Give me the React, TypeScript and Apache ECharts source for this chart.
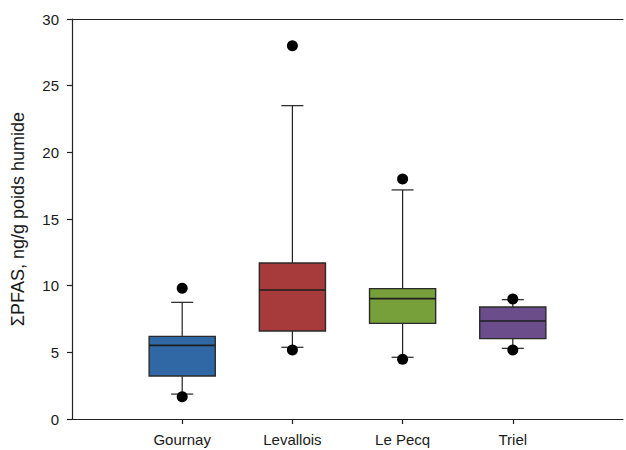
import React, { useEffect, useRef } from "react";
import * as echarts from "echarts";

// Sites along the horizontal axis (empty slots pad both ends of the axis)
const sites = ["", "Gournay", "Levallois", "Le Pecq", "Triel", ""];
const siteIndex = [1, 2, 3, 4];
// Box statistics per site: lower whisker, Q1, median, Q3, upper whisker
const lowerWhisker = [1.87, 5.38, 4.63, 5.3];
const q1 = [3.22, 6.6, 7.17, 6.03];
const median = [5.52, 9.68, 9.03, 7.35];
const q3 = [6.2, 11.7, 9.78, 8.4];
const upperWhisker = [8.75, 23.5, 17.18, 8.95];
// Extreme points beyond the whiskers
const outlierSite = [1, 1, 2, 2, 3, 3, 4, 4];
const outlierValue = [9.8, 1.67, 28.0, 5.17, 18.0, 4.48, 9.0, 5.17];
const boxColors = ["#2F68A4", "#A73B3B", "#77A03B", "#6A4D8A"];
const yTicks = { min: 0, max: 30, interval: 5 };

const FONT = "'Liberation Sans', Arial, sans-serif";

export default function App() {
  const ref = useRef<HTMLDivElement>(null);

  useEffect(() => {
    if (!ref.current) return;
    const chart = echarts.init(ref.current, null, { renderer: "svg" });

    const boxData = siteIndex.map((s, i) => [
      s,
      lowerWhisker[i],
      q1[i],
      median[i],
      q3[i],
      upperWhisker[i],
    ]);
    const outliers = outlierSite.map((s, i) => [s, outlierValue[i]]);

    const lineStyle = { stroke: "#222", lineWidth: 1.2 };

    chart.setOption({
      animation: false,
      textStyle: { fontFamily: FONT },
      grid: { left: 72, right: 0, top: 19, bottom: 31 },
      xAxis: [
        {
          type: "category",
          data: sites,
          boundaryGap: false,
          axisLine: { lineStyle: { color: "#222", width: 1.2 } },
          axisTick: {
            length: 5,
            lineStyle: { color: "#222", width: 1.2 },
            interval: (_i: number, v: string) => v !== "",
          },
          axisLabel: {
            interval: 0,
            margin: 13,
            fontSize: 15,
            color: "#1a1a1a",
            fontFamily: FONT,
          },
          splitLine: { show: false },
        },
        {
          type: "category",
          data: sites,
          boundaryGap: false,
          position: "top",
          axisLine: { lineStyle: { color: "#222", width: 1.2 } },
          axisTick: { show: false },
          axisLabel: { show: false },
          splitLine: { show: false },
        },
      ],
      yAxis: {
        type: "value",
        min: yTicks.min,
        max: yTicks.max,
        interval: yTicks.interval,
        name: "ΣPFAS, ng/g poids humide",
        nameLocation: "middle",
        nameGap: 45,
        nameTextStyle: { fontSize: 18, color: "#1a1a1a", fontFamily: FONT },
        axisLine: { show: true, lineStyle: { color: "#222", width: 1.2 } },
        axisTick: { show: true, length: 5, lineStyle: { color: "#222", width: 1.2 } },
        axisLabel: { fontSize: 15, color: "#1a1a1a", margin: 13, fontFamily: FONT },
        splitLine: { show: false },
      },
      series: [
        {
          type: "custom",
          data: boxData,
          encode: { x: 0, y: [1, 2, 3, 4, 5] },
          renderItem: (params: any, api: any) => {
            const x = api.value(0);
            const band = api.size([1, 0])[0];
            const boxW = band * 0.6;
            const capW = band * 0.2;
            const pLo = api.coord([x, api.value(1)]);
            const pQ1 = api.coord([x, api.value(2)]);
            const pMed = api.coord([x, api.value(3)]);
            const pQ3 = api.coord([x, api.value(4)]);
            const pHi = api.coord([x, api.value(5)]);
            const cx = pMed[0];
            return {
              type: "group",
              children: [
                {
                  type: "line",
                  shape: { x1: cx, y1: pQ3[1], x2: cx, y2: pHi[1] },
                  style: lineStyle,
                },
                {
                  type: "line",
                  shape: { x1: cx, y1: pQ1[1], x2: cx, y2: pLo[1] },
                  style: lineStyle,
                },
                {
                  type: "line",
                  shape: { x1: cx - capW / 2, y1: pHi[1], x2: cx + capW / 2, y2: pHi[1] },
                  style: lineStyle,
                },
                {
                  type: "line",
                  shape: { x1: cx - capW / 2, y1: pLo[1], x2: cx + capW / 2, y2: pLo[1] },
                  style: lineStyle,
                },
                {
                  type: "rect",
                  shape: {
                    x: cx - boxW / 2,
                    y: pQ3[1],
                    width: boxW,
                    height: pQ1[1] - pQ3[1],
                  },
                  style: {
                    fill: boxColors[params.dataIndex],
                    stroke: "#2a2a2a",
                    lineWidth: 1.4,
                  },
                },
                {
                  type: "line",
                  shape: { x1: cx - boxW / 2, y1: pMed[1], x2: cx + boxW / 2, y2: pMed[1] },
                  style: { stroke: "#1e1e1e", lineWidth: 1.6 },
                },
              ],
            };
          },
          z: 2,
        },
        {
          type: "scatter",
          data: outliers,
          symbol: "circle",
          symbolSize: 11,
          itemStyle: { color: "#000", opacity: 1 },
          z: 3,
        },
      ],
    });

    return () => chart.dispose();
  }, []);

  return (
    <div
      ref={ref}
      style={{ position: "fixed", left: 0, top: 0, width: 626, height: 450, background: "#fff" }}
    />
  );
}
